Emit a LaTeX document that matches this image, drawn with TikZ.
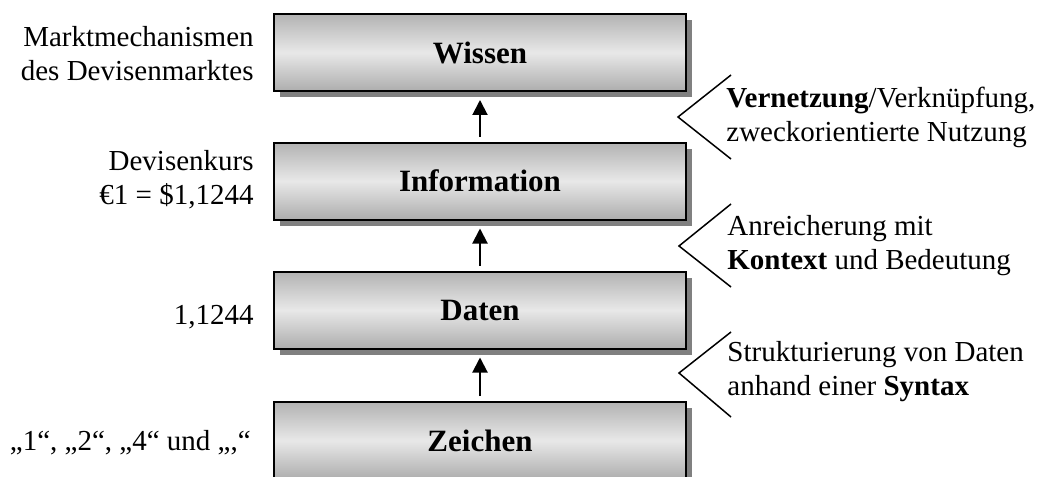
\documentclass[tikz,border=0pt]{standalone}
\usepackage{fontspec}
\setmainfont{Liberation Serif}
\usetikzlibrary{shadows,arrows.meta}

\begin{document}
\begin{tikzpicture}[x=0.5pt,y=-0.5pt,
  level/.style={draw=black, line width=1pt,
    minimum width=206pt, minimum height=38.5pt, inner sep=0pt,
    top color=black!30, bottom color=black!32, middle color=black!9,
    drop shadow={shadow xshift=3pt, shadow yshift=-3pt, fill=black!50, opacity=1},
    font=\fontsize{15.5}{18}\selectfont\bfseries},
  note/.style={inner sep=0pt, font=\fontsize{14.5}{17}\selectfont},
  lnote/.style={note, anchor=east, align=right},
  rnote/.style={note, anchor=west, align=left},
  uparrow/.style={line width=1pt, -{Triangle[width=7.5pt,length=7.5pt]}},
  chevron/.style={line width=0.75pt}]

\path[use as bounding box, clip] (0,0) rectangle (1048,476);

% the four levels of the hierarchy
\node[level] (wissen) at (480,52.5)  {Wissen};
\node[level] (info)   at (480,181)   {Information};
\node[level] (daten)  at (480,310)   {Daten};
\node[level] (zeich)  at (480,440.5) {Zeichen};

% transitions between the levels
\draw[uparrow] ([yshift=2.5pt]info.north)  -- ([yshift=-4pt]wissen.south);
\draw[uparrow] ([yshift=2.5pt]daten.north) -- ([yshift=-4pt]info.south);
\draw[uparrow] ([yshift=2.5pt]zeich.north) -- ([yshift=-4pt]daten.south);

% examples on the left
\node[lnote] (exW) at (254,53.5) {Marktmechanismen\\des Devisenmarktes};
\node[lnote] (exI) at (254,180)  {Devisenkurs\\€1 = \$1,1244};
\node[lnote] (exD) at (254,317)  {1,1244};
\node[lnote] (exZ) at (251,443)  {„1“, „2“, „4“ und „,“};

% brackets and explanations on the right
\coordinate (c1a) at (731,75);  \coordinate (c1t) at (678,117); \coordinate (c1b) at (731,159);
\coordinate (c2a) at (731,204); \coordinate (c2t) at (679,246); \coordinate (c2b) at (731,287);
\coordinate (c3a) at (731,332); \coordinate (c3t) at (679,373); \coordinate (c3b) at (731,417);
\draw[chevron] (c1a) -- (c1t) -- (c1b);
\draw[chevron] (c2a) -- (c2t) -- (c2b);
\draw[chevron] (c3a) -- (c3t) -- (c3b);

\node[rnote] (t1) at (726,117.5) {\textbf{Vernetzung}/Verknüpfung,\\zweckorientierte Nutzung};
\node[rnote] (t2) at (727,245.5) {Anreicherung mit\\\textbf{Kontext} und Bedeutung};
\node[rnote] (t3) at (727,371.5) {Strukturierung von Daten\\anhand einer \textbf{Syntax}};
\end{tikzpicture}
\end{document}
